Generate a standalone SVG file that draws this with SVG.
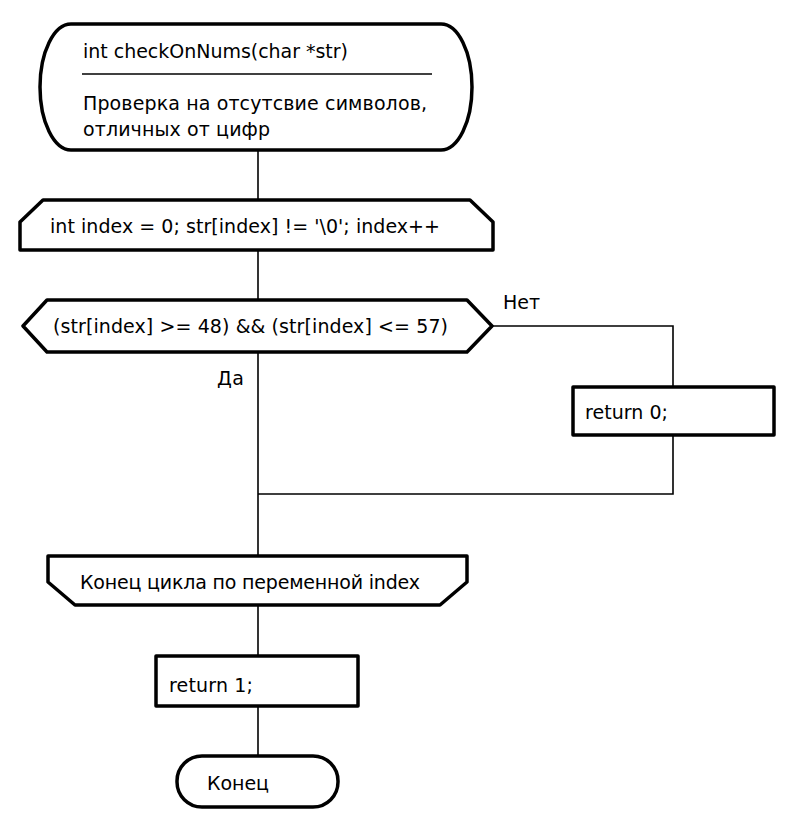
<svg xmlns="http://www.w3.org/2000/svg" width="793" height="830" viewBox="0 0 793 830">
  <style>
    .shape { fill: #ffffff; stroke: #000000; stroke-width: 3.5; stroke-linejoin: round; }
    .line { fill: none; stroke: #000000; stroke-width: 1.6; }
    text { font-family: "DejaVu Sans", "Liberation Sans", sans-serif; font-size: 19px; fill: #000000; }
  </style>
  <rect width="793" height="830" fill="#ffffff"/>

  <!-- connectors -->
  <g id="connectors">
    <line class="line" x1="258" y1="150" x2="258" y2="200"/>
    <line class="line" x1="258" y1="250" x2="258" y2="300"/>
    <line class="line" x1="258" y1="352" x2="258" y2="556"/>
    <polyline class="line" points="492,326 673,326 673,387"/>
    <polyline class="line" points="673,435 673,494 258,494"/>
    <line class="line" x1="258" y1="605" x2="258" y2="656"/>
    <line class="line" x1="258" y1="706" x2="258" y2="756"/>
    <text x="503" y="309" textLength="37">Нет</text>
    <text x="217" y="385" textLength="27">Да</text>
  </g>

  <!-- function header -->
  <g id="start">
    <rect class="shape" x="40" y="24" width="432" height="126" rx="31" ry="63"/>
    <text x="83" y="58" textLength="265">int checkOnNums(char *str)</text>
    <line class="line" x1="82" y1="74" x2="432" y2="74"/>
    <text x="83" y="110" textLength="344">Проверка на отсутсвие символов,</text>
    <text x="83" y="136" textLength="187">отличных от цифр</text>
  </g>

  <!-- loop start -->
  <g id="loop-begin">
    <path class="shape" d="M20,250 L20,222 L43,200 L470,200 L493,222 L493,250 Z"/>
    <text x="50" y="233" textLength="390">int index = 0; str[index] != '\0'; index++</text>
  </g>

  <!-- condition -->
  <g id="condition">
    <path class="shape" d="M23,326 L47,300 L467,300 L492,326 L467,352 L47,352 Z"/>
    <text x="53" y="333" textLength="395">(str[index] &gt;= 48) &amp;&amp; (str[index] &lt;= 57)</text>
  </g>

  <!-- return 0 -->
  <g id="return-zero">
    <rect class="shape" x="573" y="387" width="201" height="48"/>
    <text x="585" y="419" textLength="83">return 0;</text>
  </g>

  <!-- loop end -->
  <g id="loop-end">
    <path class="shape" d="M48,556 L467,556 L467,582 L440,605 L75,605 L48,582 Z"/>
    <text x="80" y="589" textLength="340">Конец цикла по переменной index</text>
  </g>

  <!-- return 1 -->
  <g id="return-one">
    <rect class="shape" x="156" y="656" width="202" height="50"/>
    <text x="169" y="692" textLength="84">return 1;</text>
  </g>

  <!-- end -->
  <g id="end">
    <rect class="shape" x="177" y="756" width="161" height="51" rx="25" ry="25"/>
    <text x="207" y="790" textLength="62">Конец</text>
  </g>
</svg>
